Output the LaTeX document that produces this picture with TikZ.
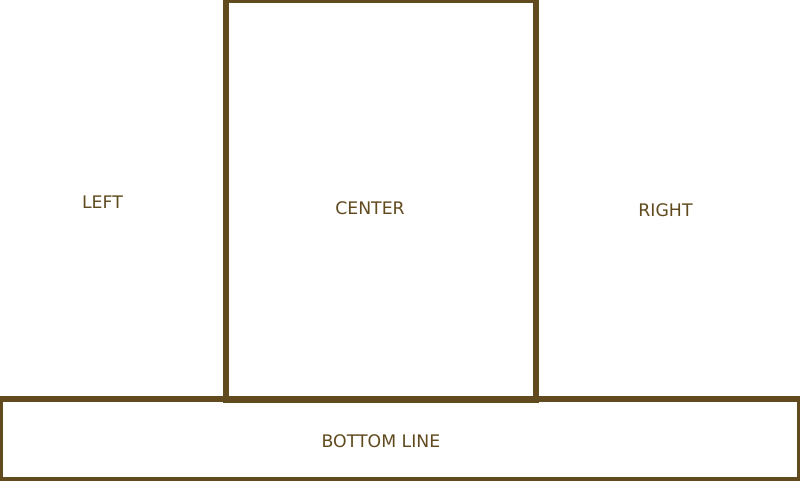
\documentclass[tikz,border=0pt]{standalone}
\usepackage{fontspec}
\setmainfont{DejaVu Sans}
\definecolor{brn}{RGB}{96,74,30}
\begin{document}
\begin{tikzpicture}[x=1pt,y=-1pt,
  frame/.style={draw=brn,line width=6pt,inner sep=0pt,outer sep=0pt},
  lbl/.style={text=brn,font=\fontsize{17.3}{20}\selectfont,inner sep=0pt}]
\useasboundingbox (0,0) rectangle (800,480);
\clip (0,0) rectangle (800,480);
\fill[white] (0,0) rectangle (800,480);
\node[frame,minimum width=310pt,minimum height=400pt] (centerbox) at (381,200) {};
\node[frame,minimum width=800pt,minimum height=81pt] (bottombox) at (400,439.5) {};
\node[lbl] (left) at (102.5,202.5) {LEFT};
\node[lbl] (center) at (370,208.5) {CENTER};
\node[lbl] (right) at (665.5,210.5) {RIGHT};
\node[lbl] (bottom) at (381,441.5) {BOTTOM LINE};
\end{tikzpicture}
\end{document}
